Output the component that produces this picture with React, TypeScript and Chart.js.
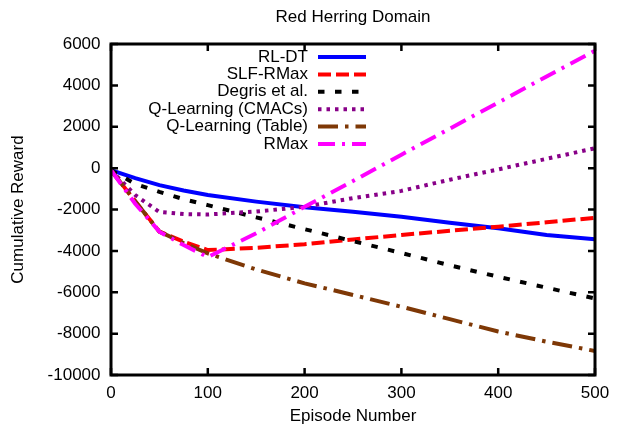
import React, { useEffect, useRef } from 'react';
import { Chart, registerables } from 'chart.js';

Chart.register(...registerables);

const episodes = [0, 25, 50, 75, 100, 150, 200, 250, 300, 350, 400, 450, 500];
const rlDt = [-100, -480, -820, -1080, -1300, -1620, -1890, -2110, -2350, -2640, -2910, -3230, -3440];
const slfRmax = [-100, -1600, -3070, -3550, -3960, -3850, -3680, -3450, -3230, -3030, -2830, -2620, -2400];
const degris = [-100, -760, -1150, -1500, -1790, -2380, -2950, -3530, -4100, -4700, -5250, -5780, -6300];
const qCmac = [-100, -1300, -2120, -2220, -2240, -2100, -1870, -1450, -1100, -560, -60, 450, 960];
const qTable = [-100, -1600, -3070, -3620, -4120, -4900, -5570, -6130, -6700, -7300, -7900, -8390, -8840];
const rmax = [-100, -1720, -3070, -3720, -4300, -3150, -1870, -620, 650, 1910, 3170, 4430, 5680];

const chartTitle = 'Red Herring Domain';
const seriesNames = ['RL-DT', 'SLF-RMax', 'Degris et al.', 'Q-Learning (CMACs)', 'Q-Learning (Table)', 'RMax'];
const seriesValues = [rlDt, slfRmax, degris, qCmac, qTable, rmax];
const seriesColors = ['#0000ff', '#ff0000', '#000000', '#880088', '#7e3806', '#ff00ff'];
const seriesDashes: number[][] = [[], [13, 5], [6.5, 10.5], [3.5, 5], [20, 7, 3.5, 7], [17, 7, 3, 7]];

const xTicks = [0, 100, 200, 300, 400, 500];
const yTicks = [-10000, -8000, -6000, -4000, -2000, 0, 2000, 4000, 6000];

const FONT = '"Liberation Sans", Arial, Helvetica, sans-serif';
const FS = 17;

const framePlugin = {
  id: 'gnuFrame',
  afterDatasetsDraw(chart: any) {
    const { ctx, chartArea } = chart;
    const { left, right, top, bottom } = chartArea;
    const xs = chart.scales.x;
    const ys = chart.scales.y;
    ctx.save();
    ctx.strokeStyle = '#000';
    ctx.lineWidth = 2.5;
    ctx.setLineDash([]);
    ctx.lineCap = 'butt';
    const tl = 7;
    ctx.beginPath();
    for (const v of xTicks) {
      const px = xs.getPixelForValue(v);
      ctx.moveTo(px, bottom);
      ctx.lineTo(px, bottom - tl);
      ctx.moveTo(px, top);
      ctx.lineTo(px, top + tl);
    }
    for (const v of yTicks) {
      const py = ys.getPixelForValue(v);
      ctx.moveTo(left, py);
      ctx.lineTo(left + tl, py);
      ctx.moveTo(right, py);
      ctx.lineTo(right - tl, py);
    }
    ctx.stroke();
    ctx.lineWidth = 3;
    ctx.strokeRect(left, top, right - left, bottom - top);
    ctx.restore();
  },
};

const legendPlugin = {
  id: 'gnuLegend',
  afterDraw(chart: any) {
    const { ctx, chartArea } = chart;
    ctx.save();
    ctx.font = `${FS}px ${FONT}`;
    ctx.fillStyle = '#000';
    ctx.textAlign = 'center';
    ctx.textBaseline = 'middle';
    ctx.fillText(chartTitle, (chartArea.left + chartArea.right) / 2, 17);
    ctx.textAlign = 'right';
    const textRight = chartArea.left + 197;
    const lineStart = chartArea.left + 207;
    const lineEnd = chartArea.left + 255;
    seriesNames.forEach((name, i) => {
      const y = chartArea.top + 13 + i * 17.4;
      ctx.fillText(name, textRight, y);
      ctx.beginPath();
      ctx.strokeStyle = seriesColors[i];
      ctx.lineWidth = 4;
      ctx.lineCap = 'butt';
      ctx.setLineDash(seriesDashes[i]);
      ctx.moveTo(lineStart, y);
      ctx.lineTo(lineEnd, y);
      ctx.stroke();
    });
    ctx.restore();
  },
};

export default function App() {
  const canvasRef = useRef<HTMLCanvasElement | null>(null);

  useEffect(() => {
    if (!canvasRef.current) return;
    const datasets = seriesNames.map((name, i) => ({
      label: name,
      data: episodes.map((x, j) => ({ x, y: seriesValues[i][j] })),
      borderColor: seriesColors[i],
      backgroundColor: seriesColors[i],
      borderWidth: 4,
      borderDash: seriesDashes[i],
      borderCapStyle: 'butt' as const,
      borderJoinStyle: 'miter' as const,
      pointRadius: 0,
      tension: 0,
      fill: false,
      order: seriesNames.length - 1 - i,
    }));

    const chart = new Chart(canvasRef.current, {
      type: 'line',
      data: { datasets },
      plugins: [framePlugin, legendPlugin],
      options: {
        animation: false,
        responsive: false,
        devicePixelRatio: 1,
        layout: { padding: { left: 0, right: 28, top: 44, bottom: 0 } },
        font: { family: FONT, size: FS },
        plugins: {
          legend: { display: false },
          tooltip: { enabled: false },
          title: { display: false },
        },
        scales: {
          x: {
            type: 'linear',
            min: 0,
            max: 500,
            grid: { display: false, drawTicks: false },
            border: { display: false },
            afterBuildTicks: (scale: any) => {
              scale.ticks = xTicks.map((v) => ({ value: v }));
            },
            afterFit: (scale: any) => {
              scale.height = 55;
            },
            ticks: {
              color: '#000',
              padding: 7.8,
              maxRotation: 0,
              font: { family: FONT, size: FS },
            },
            title: {
              display: true,
              text: 'Episode Number',
              color: '#000',
              font: { family: FONT, size: FS },
              padding: { top: 0, bottom: 3.8 },
            },
          },
          y: {
            type: 'linear',
            min: -10000,
            max: 6000,
            grid: { display: false, drawTicks: false },
            border: { display: false },
            afterBuildTicks: (scale: any) => {
              scale.ticks = yTicks.map((v) => ({ value: v }));
            },
            afterFit: (scale: any) => {
              scale.width = 111;
            },
            ticks: {
              color: '#000',
              padding: 10.5,
              font: { family: FONT, size: FS },
              callback: (v: any) => String(v),
            },
            title: {
              display: true,
              text: 'Cumulative Reward',
              color: '#000',
              font: { family: FONT, size: FS },
              padding: { top: 8.1, bottom: 0 },
            },
          },
        },
      } as any,
    });
    return () => chart.destroy();
  }, []);

  return (
    <div style={{ position: 'absolute', left: 0, top: 0, width: 623, height: 430, background: '#fff' }}>
      <canvas ref={canvasRef} width={623} height={430} />
    </div>
  );
}
